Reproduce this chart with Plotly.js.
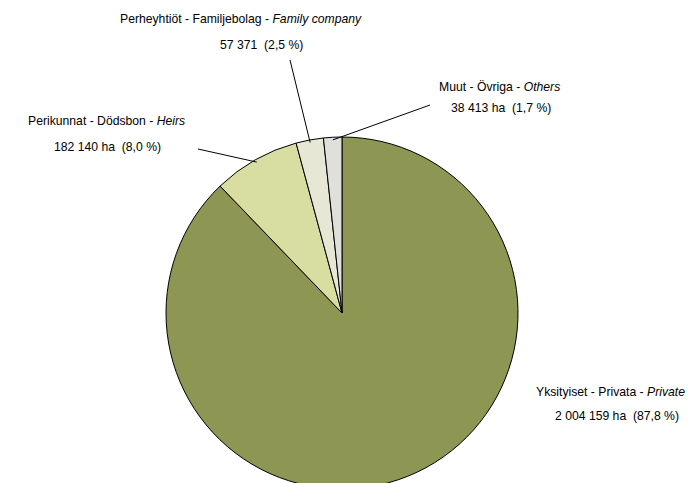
<!DOCTYPE html>
<html>
<head>
<meta charset="utf-8">
<script src="https://cdn.plot.ly/plotly-3.0.1.min.js"></script>
<style>
html,body{margin:0;padding:0;overflow:hidden;background:#fff;}
#chart{width:700px;height:500px;}
</style>
</head>
<body>
<div id="chart"></div>
<script>
// Data
const categories = ["Yksityiset - Privata - Private", "Perikunnat - Dödsbon - Heirs", "Perheyhtiöt - Familjebolag - Family company", "Muut - Övriga - Others"];
const labelLine1 = ["Yksityiset - Privata - <i>Private</i>", "Perikunnat - Dödsbon - <i>Heirs</i>", "Perheyhtiöt - Familjebolag - <i>Family company</i>", "Muut - Övriga - <i>Others</i>"];
const labelLine2 = ["2 004 159 ha \u00a0(87,8 %)", "182 140 ha \u00a0(8,0 %)", "57 371 \u00a0(2,5 %)", "38 413 ha \u00a0(1,7 %)"];
const areas = [2004159, 182140, 57371, 38413];
const colors = ["#8D9652", "#D8DDA2", "#E6E8D5", "#DFE0DC"];

// Layout geometry
const W = 700, H = 500;
const cx = 342, cy = 313, R = 176;
const px = x => x / W;
const py = y => 1 - y / H;

// label positions (pixels) per category
const labelPos = [
  {x1: 610, y1: 392, x2: 617, y2: 416, leader: null},
  {x1: 106, y1: 121, x2: 107, y2: 147, leader: [198, 149]},
  {x1: 241, y1: 19,  x2: 261, y2: 45,  leader: [290, 60]},
  {x1: 499, y1: 87,  x2: 501, y2: 108, leader: [430, 105]}
];

const total = areas.reduce((a, b) => a + b, 0);
const annotations = [];
const shapes = [];
let cum = 0;
areas.forEach((v, i) => {
  const mid = (cum + v / 2) / total * 2 * Math.PI; // clockwise from 12 o'clock
  cum += v;
  const lp = labelPos[i];
  const font = {family: "Liberation Sans, Arial, sans-serif", size: 12.2, color: "#000"};
  annotations.push({xref: "paper", yref: "paper", x: px(lp.x1), y: py(lp.y1), text: labelLine1[i], showarrow: false, xanchor: "center", yanchor: "middle", font});
  annotations.push({xref: "paper", yref: "paper", x: px(lp.x2), y: py(lp.y2), text: labelLine2[i], showarrow: false, xanchor: "center", yanchor: "middle", font});
  if (lp.leader) {
    const ex = cx + 0.985 * R * Math.sin(mid);
    const ey = cy - 0.985 * R * Math.cos(mid);
    shapes.push({type: "line", xref: "paper", yref: "paper", x0: px(lp.leader[0]), y0: py(lp.leader[1]), x1: px(ex), y1: py(ey), line: {color: "#000", width: 1}});
  }
});

const trace = {
  type: "pie",
  labels: categories,
  values: areas,
  sort: false,
  direction: "clockwise",
  rotation: 0,
  textinfo: "none",
  hoverinfo: "label+value+percent",
  marker: {colors: colors, line: {color: "#000", width: 1}},
  domain: {x: [px(cx - R), px(cx + R)], y: [py(cy + R), py(cy - R)]},
  showlegend: false
};

const layout = {
  width: W, height: H,
  margin: {l: 0, r: 0, t: 0, b: 0},
  paper_bgcolor: "#fff",
  plot_bgcolor: "#fff",
  showlegend: false,
  annotations: annotations,
  shapes: shapes
};

Plotly.newPlot("chart", [trace], layout, {displayModeBar: false, staticPlot: true});
</script>
</body>
</html>
